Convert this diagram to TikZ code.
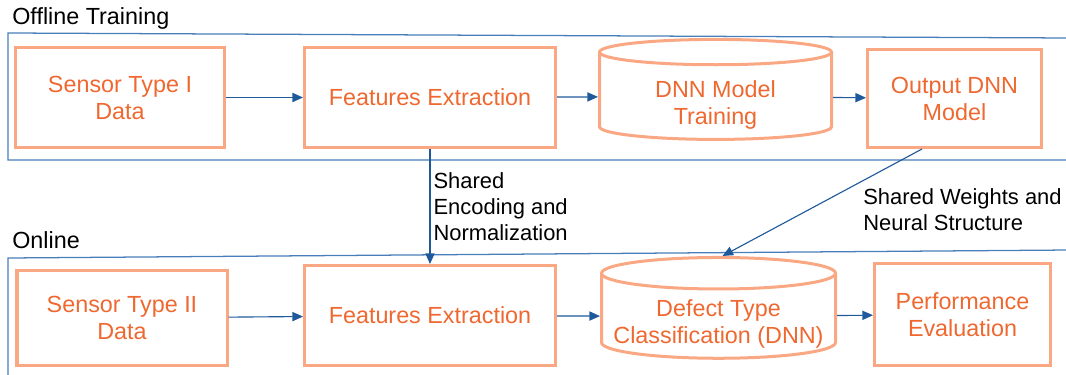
\documentclass[tikz,border=0pt]{standalone}
\usepackage{fontspec}
\setmainfont{Liberation Sans}
\usetikzlibrary{arrows.meta, shapes.geometric, calc}

\definecolor{boxline}{RGB}{250,168,132}
\definecolor{boxtext}{RGB}{238,104,48}
\definecolor{frameline}{RGB}{72,126,186}
\definecolor{arrowline}{RGB}{30,90,155}

\begin{document}
\begin{tikzpicture}[x=0.025cm, y=-0.025cm,
		stage/.style={draw=boxline, line width=0.075cm, text=boxtext, align=center, inner sep=0pt,
			font=\fontsize{16.6}{19.2}\selectfont},
		drum/.style={stage, cylinder, shape border rotate=90, aspect=0.15},
		drumtext/.style={text=boxtext, align=center, inner sep=0pt,
			font=\fontsize{16.6}{19.2}\selectfont},
		frame/.style={draw=frameline, line width=0.9pt},
		flow/.style={draw=arrowline, line width=0.8pt, -{Triangle[length=7.5pt, width=6.5pt]}},
		note/.style={align=left, inner sep=0pt, font=\fontsize{15.6}{18.5}\selectfont},
		title/.style={inner sep=0pt, font=\fontsize{16.6}{19.2}\selectfont}]
		\def\px{0.025cm};

		\useasboundingbox (0,0) rectangle (1066,375);

		% stage frames
		\draw [frame] (1070,38) -- (8,33) -- (8,160) -- (1070,160);
		\draw [frame] (1070,250) -- (8,258) -- (8,380);
		\node [title, anchor=base west] (offline) at (12,25) {Offline Training};
		\node [title, anchor=base west] (online) at (12,248) {Online};

		% offline row
		\node [stage, minimum width=209*\px, minimum height=100*\px] (sensor1) at (120,97.5) {Sensor Type I\\Data};
		\node [stage, minimum width=251*\px, minimum height=100*\px] (feat1) at (430,97.5) {Features Extraction};
		\node [drum, aspect=0.21, minimum width=232*\px, minimum height=100*\px] (train) at (715.5,96.5) {\phantom{DNN Model}\\\strut};
		\node [drumtext] (train text) at ($ (train) + (0,8) $) {DNN Model\\Training};
		\node [stage, minimum width=174*\px, minimum height=98*\px] (model) at (954.5,98.5) {Output DNN\\Model};

		% online row
		\node [stage, minimum width=210*\px, minimum height=95*\px] (sensor2) at (122,318) {Sensor Type II\\Data};
		\node [stage, minimum width=251*\px, minimum height=100*\px] (feat2) at (430,315.5) {Features Extraction};
		\node [drum, minimum width=234*\px, minimum height=100*\px] (classify) at (718.5,316.5) {\phantom{Classification (DNN)}\\\strut};
		\node [drumtext] (classify text) at ($ (classify) + (0,7) $) {Defect Type\\Classification (DNN)};
		\node [stage, minimum width=176*\px, minimum height=102*\px] (perf) at (962.5,314.5) {Performance\\Evaluation};

		\draw [flow] (sensor1) -- (feat1);
		\draw [flow] (feat1) -- (train);
		\draw [flow] (train) -- (model);
		\draw [flow] (sensor2) -- (feat2);
		\draw [flow] (feat2) -- (classify);
		\draw [flow] (classify) -- (perf);

		% shared parts
		\draw [flow] (feat1.south) -- (feat2.north)
			node [note, midway, right=3*\px] (encnote) {Shared\\Encoding and\\Normalization};
		\coordinate (share from) at ($ (model.south) + (-32.5,0) $);
		\coordinate (share to) at ($ (classify.north) + (4,0) $);
		\draw [flow] (share from) -- (share to);
		\node [note, anchor=west] (sharenote) at (863,210) {Shared Weights and\\Neural Structure};
	\end{tikzpicture}
\end{document}
